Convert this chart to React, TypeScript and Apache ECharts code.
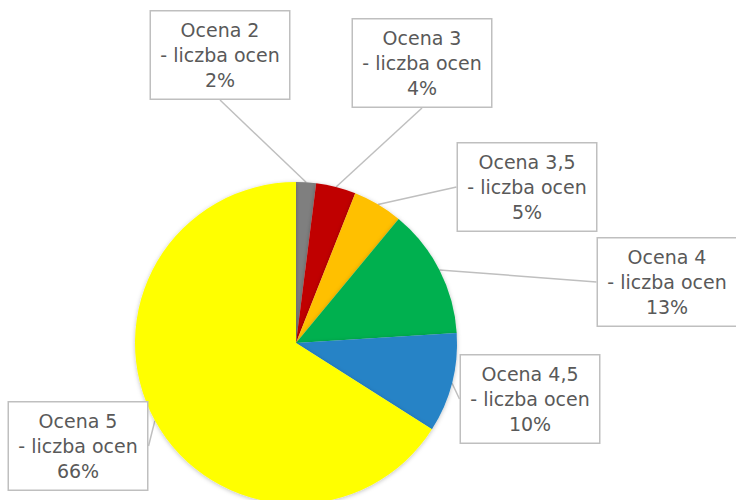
import React, { useEffect, useRef } from "react";
import * as echarts from "echarts";

const categories = ["Ocena 2", "Ocena 3", "Ocena 3,5", "Ocena 4", "Ocena 4,5", "Ocena 5"];
const values = [2, 4, 5, 13, 10, 66];
const colors = ["#7F7F7F", "#C00000", "#FFC000", "#00B050", "#2683C6", "#FFFF00"];
const labelCenters = [
  [220, 55],
  [422, 63],
  [527, 187],
  [667, 282],
  [530, 399],
  [78, 446],
];

export default function App() {
  const ref = useRef<HTMLDivElement>(null);
  useEffect(() => {
    const chart = echarts.init(ref.current!, null, { renderer: "svg" });
    chart.setOption({
      animation: false,
      backgroundColor: "#ffffff",
      series: [
        {
          type: "pie",
          center: [296, 343],
          radius: 161,
          startAngle: 90,
          clockwise: true,
          avoidLabelOverlap: false,
          data: categories.map((c, i) => ({
            name: c,
            value: values[i],
            itemStyle: { color: colors[i] },
          })),
          itemStyle: {
            shadowBlur: 4,
            shadowColor: "rgba(0,0,0,0.25)",
            shadowOffsetY: 1,
          },
          label: {
            show: true,
            position: "outside",
            formatter: (p: any) => `${p.name}\n- liczba ocen\n${values[p.dataIndex]}%`,
            fontFamily: "DejaVu Sans",
            fontSize: 19,
            lineHeight: 25,
            color: "#595959",
            backgroundColor: "#ffffff",
            borderColor: "#BFBFBF",
            borderWidth: 1.5,
            padding: [6, 4],
            width: 130,
            align: "center",
          },
          labelLine: {
            show: true,
            length: 0,
            length2: 0,
            lineStyle: { color: "#BFBFBF", width: 1.5 },
          },
          labelLayout: (params: any) => {
            const c = labelCenters[params.dataIndex];
            return { x: c[0], y: c[1], align: "center", verticalAlign: "middle" };
          },
          emphasis: { disabled: true },
        },
      ],
    });
    return () => chart.dispose();
  }, []);
  return (
    <div
      ref={ref}
      style={{ position: "fixed", left: 0, top: 0, width: 736, height: 500 }}
    />
  );
}
